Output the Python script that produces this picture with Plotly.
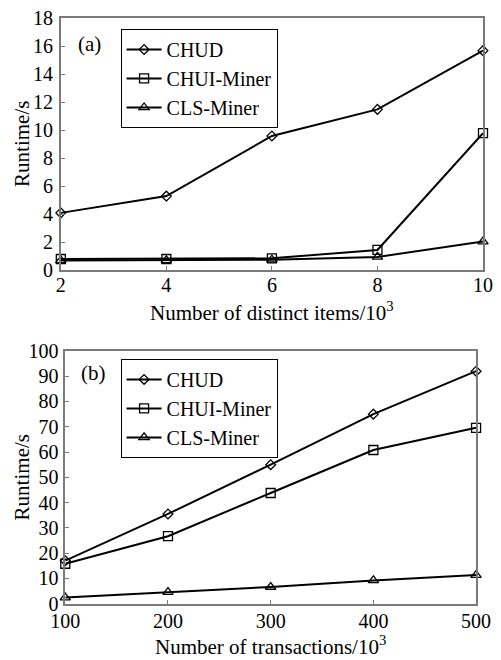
import plotly.graph_objects as go

# ---- data ----
items = [2, 4, 6, 8, 10]
chud_a = [4.1, 5.3, 9.6, 11.5, 15.7]
chui_a = [0.8, 0.8, 0.85, 1.45, 9.8]
cls_a = [0.7, 0.7, 0.75, 0.95, 2.05]

trans = [100, 200, 300, 400, 500]
chud_b = [17.0, 35.5, 55.0, 75.0, 92.0]
chui_b = [15.8, 26.7, 43.8, 60.8, 69.6]
cls_b = [2.4, 4.6, 6.6, 9.2, 11.3]

names = ["CHUD", "CHUI-Miner", "CLS-Miner"]
symbols = ["diamond-open", "square-open", "triangle-up-open"]
msizes = [7.5, 9, 9]

# the page body has an 8px margin and clips its content, so the figure
# is sized to the visible area and layout pixels are mapped into it
OFF = 8
W, H = 485, 652
FONT = "'Liberation Serif', 'Times New Roman', serif"
GRAY = "#7a7a7a"

def px_x(p):
    sx = OFF + (p - OFF) * 0.9875
    return (sx - OFF) / W

def px_y(p):
    sy = 18 + (p - 15) * 638 / 640
    return 1 - (sy - OFF) / H

fig = go.Figure()

def add_series(xs, series, xa, ya, lg):
    for ys, nm, sym, ms in zip(series, names, symbols, msizes):
        fig.add_trace(go.Scatter(
            x=xs, y=ys, name=nm, mode="lines+markers",
            line=dict(color="black", width=2),
            marker=dict(symbol=sym, size=ms, color="black",
                        line=dict(width=1.3, color="black")),
            xaxis=xa, yaxis=ya, legend=lg, cliponaxis=False))

add_series(items, [chud_a, chui_a, cls_a], "x", "y", "legend")
add_series(trans, [chud_b, chui_b, cls_b], "x2", "y2", "legend2")

axis_common = dict(showline=True, linecolor=GRAY, linewidth=1.5, mirror=True,
                   ticks="inside", ticklen=4, tickcolor=GRAY, tickwidth=1,
                   showgrid=False, zeroline=False, automargin=False,
                   ticklabeloverflow="allow",
                   tickfont=dict(family=FONT, size=20, color="black"))

legend_common = dict(xanchor="left", yanchor="top", bordercolor="black",
                     borderwidth=1, bgcolor="white", itemwidth=35,
                     font=dict(family=FONT, size=20), tracegroupgap=0)

fig.update_layout(
    width=W, height=H,
    margin=dict(l=0, r=0, t=0, b=0, autoexpand=False),
    paper_bgcolor="white", plot_bgcolor="white",
    font=dict(family=FONT, size=21, color="black"),
    xaxis=dict(domain=[px_x(61.5), px_x(489)], range=[2, 10], tickvals=items,
               anchor="y", ticklabelstandoff=-4, **axis_common),
    yaxis=dict(domain=[px_y(268), px_y(15.5)], range=[0, 18], dtick=2,
               anchor="x", ticklabelstandoff=2, **axis_common),
    xaxis2=dict(domain=[px_x(66), px_x(482)], range=[100, 500], tickvals=trans,
                anchor="y2", ticklabelstandoff=-1, **axis_common),
    yaxis2=dict(domain=[px_y(602.5), px_y(349)], range=[0, 100], dtick=10,
                anchor="x2", ticklabelstandoff=1, **axis_common),
    legend=dict(x=px_x(122), y=px_y(26), **legend_common),
    legend2=dict(x=px_x(122), y=px_y(357), **legend_common),
    showlegend=True,
)

ann = [
    dict(text="(a)", x=px_x(77), y=px_y(41), xanchor="left", yanchor="middle"),
    dict(text="(b)", x=px_x(80), y=px_y(371), xanchor="left", yanchor="middle"),
    dict(text="Runtime/s", x=px_x(22), y=px_y(141.5), textangle=-90,
         xanchor="center", yanchor="middle"),
    dict(text="Runtime/s", x=px_x(22), y=px_y(476), textangle=-90,
         xanchor="center", yanchor="middle"),
    dict(text="Number of distinct items/10<sup>3</sup>", x=px_x(275), y=px_y(309),
         xanchor="center", yanchor="middle"),
    dict(text="Number of transactions/10<sup>3</sup>", x=px_x(274), y=px_y(644),
         xanchor="center", yanchor="middle"),
]
for a in ann:
    fig.add_annotation(xref="paper", yref="paper", showarrow=False,
                       font=dict(family=FONT, size=21, color="black"), **a)

fig.write_html("out.html")
